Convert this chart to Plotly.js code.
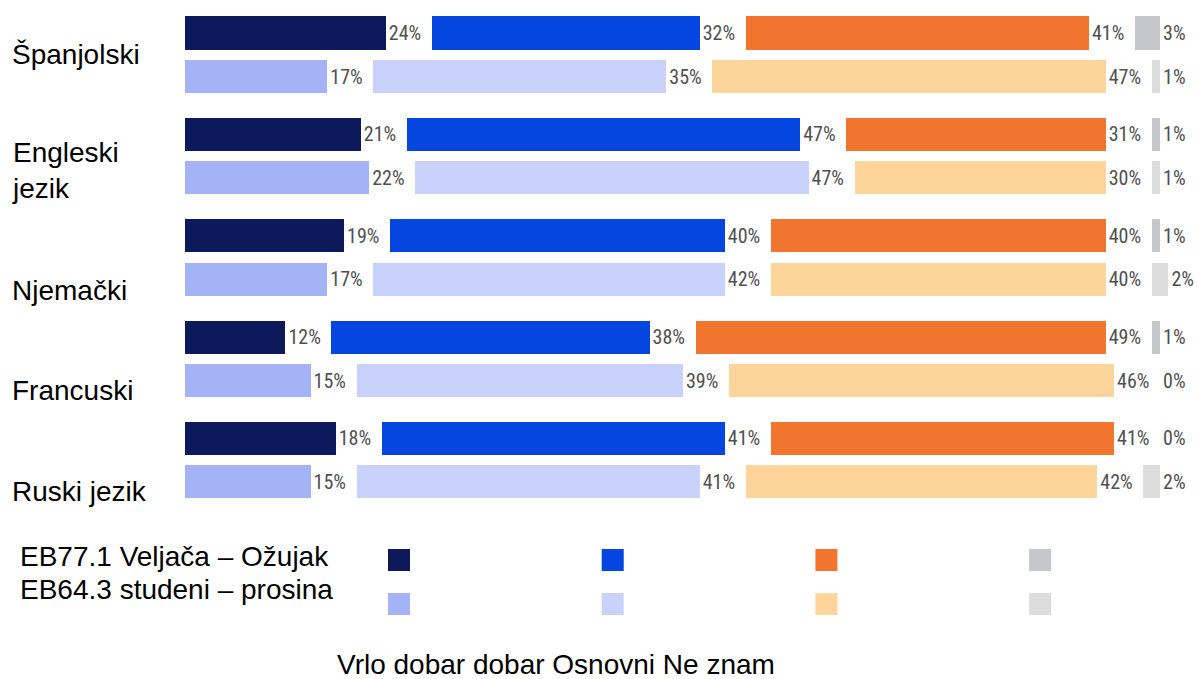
<!DOCTYPE html>
<html>
<head>
<meta charset="utf-8">
<script src="https://cdn.plot.ly/plotly-3.0.1.min.js"></script>
<style>html,body{margin:0;padding:0;background:#fff;}#chart{width:1200px;height:679px;}</style>
</head>
<body>
<div id="chart"></div>
<script>
// ---- data ----
const languages = ['Španjolski', 'Engleski<br>jezik', 'Njemački', 'Francuski', 'Ruski jezik'];
const categories = ['Vrlo dobar', 'dobar', 'Osnovni', 'Ne znam'];
const periods = ['EB77.1 Veljača – Ožujak', 'EB64.3 studeni – prosina'];

const vrloDobar77 = [24, 21, 19, 12, 18];
const dobar77     = [32, 47, 40, 38, 41];
const osnovni77   = [41, 31, 40, 49, 41];
const neZnam77    = [3, 1, 1, 1, 0];

const vrloDobar64 = [17, 22, 17, 15, 15];
const dobar64     = [35, 47, 42, 39, 41];
const osnovni64   = [47, 30, 40, 46, 42];
const neZnam64    = [1, 1, 2, 0, 2];

// ---- styles ----
const darkColors  = ['#0c1a5c', '#0545e0', '#f1752f', '#c6c7cb'];
const lightColors = ['#a3b3f6', '#c9d2fb', '#fdd49a', '#dcdcdc'];
const GAP = 5.5;           // label gap between segments (axis units)
const GROUP_STEP = 2.33;   // distance between language groups
const BAR_W = 0.76;
const LABEL_SHIFT = [0, 0.34, 0.75, 0.72, 0.71];
const pctFont = {family: 'Liberation Sans Narrow, Arial Narrow, Roboto Condensed, DejaVu Sans Condensed, sans-serif', size: 20, color: '#505050'};
const mainFont = 'Liberation Sans, Arial, sans-serif';

const series77 = [vrloDobar77, dobar77, osnovni77, neZnam77];
const series64 = [vrloDobar64, dobar64, osnovni64, neZnam64];

// y positions: for each language, two bars (77.1 then 64.3)
const yPos = [];
languages.forEach((_, g) => { yPos.push(g * GROUP_STEP); yPos.push(g * GROUP_STEP + 1); });

const traces = [];
categories.forEach((cat, c) => {
  const vals = [], cols = [], txt = [];
  languages.forEach((_, g) => {
    vals.push(series77[c][g]); cols.push(darkColors[c]);
    vals.push(series64[c][g]); cols.push(lightColors[c]);
  });
  vals.forEach(v => txt.push(v + '%'));
  traces.push({
    type: 'bar', orientation: 'h', x: vals, y: yPos, width: BAR_W,
    marker: {color: cols, line: {width: 0}}, hoverinfo: 'skip', showlegend: false, name: cat
  });
  traces.push({
    type: 'bar', orientation: 'h', x: vals.map(() => GAP), y: yPos, width: BAR_W,
    marker: {color: 'rgba(0,0,0,0)', line: {width: 0}},
    text: txt, textposition: 'inside', insidetextanchor: 'start', textangle: 0,
    constraintext: 'none', textfont: pctFont, hoverinfo: 'skip', showlegend: false
  });
});

// legend squares in second subplot
const legX = [], legY = [], legC = [];
periods.forEach((p, r) => categories.forEach((c, i) => {
  legX.push(i); legY.push(r); legC.push(r === 0 ? darkColors[i] : lightColors[i]);
}));
traces.push({
  type: 'scatter', mode: 'markers', x: legX, y: legY, xaxis: 'x2', yaxis: 'y2',
  marker: {symbol: 'square', size: 22, color: legC, line: {width: 0}},
  hoverinfo: 'skip', showlegend: false
});

const annotations = [];
languages.forEach((lab, g) => {
  annotations.push({
    text: lab, xref: 'paper', yref: 'y', x: 0.008, y: g * GROUP_STEP + 0.5 + LABEL_SHIFT[g],
    xanchor: 'left', yanchor: 'middle', align: 'left', showarrow: false,
    font: {family: mainFont, size: 28, color: '#000'}
  });
});
const periodShift = [-0.07, -0.32];
periods.forEach((p, r) => {
  annotations.push({
    text: p, xref: 'paper', yref: 'y2', x: 0.015, y: r + periodShift[r],
    xanchor: 'left', yanchor: 'middle', showarrow: false,
    font: {family: mainFont, size: 28, color: '#000'}
  });
});
annotations.push({
  text: categories.join(' '), xref: 'paper', yref: 'paper', x: 0.463, y: 0.022,
  xanchor: 'center', yanchor: 'middle', showarrow: false,
  font: {family: mainFont, size: 28, color: '#000'}
});

const layout = {
  width: 1200, height: 679,
  margin: {l: 0, r: 0, t: 0, b: 0},
  paper_bgcolor: '#fff', plot_bgcolor: '#fff',
  barmode: 'stack', bargap: 0,
  xaxis: {domain: [185 / 1200, 1], range: [0, 121.27], visible: false, fixedrange: true},
  yaxis: {domain: [1 - 520 / 679, 1], range: [11.195, -0.759], visible: false, fixedrange: true},
  xaxis2: {domain: [0, 1], range: [-1.867, 3.748], visible: false, anchor: 'y2'},
  yaxis2: {domain: [0, 1 - 520 / 679], range: [2.705, -0.909], visible: false, anchor: 'x2'},
  annotations: annotations,
  showlegend: false
};

Plotly.newPlot('chart', traces, layout, {displayModeBar: false, staticPlot: true});
</script>
</body>
</html>
